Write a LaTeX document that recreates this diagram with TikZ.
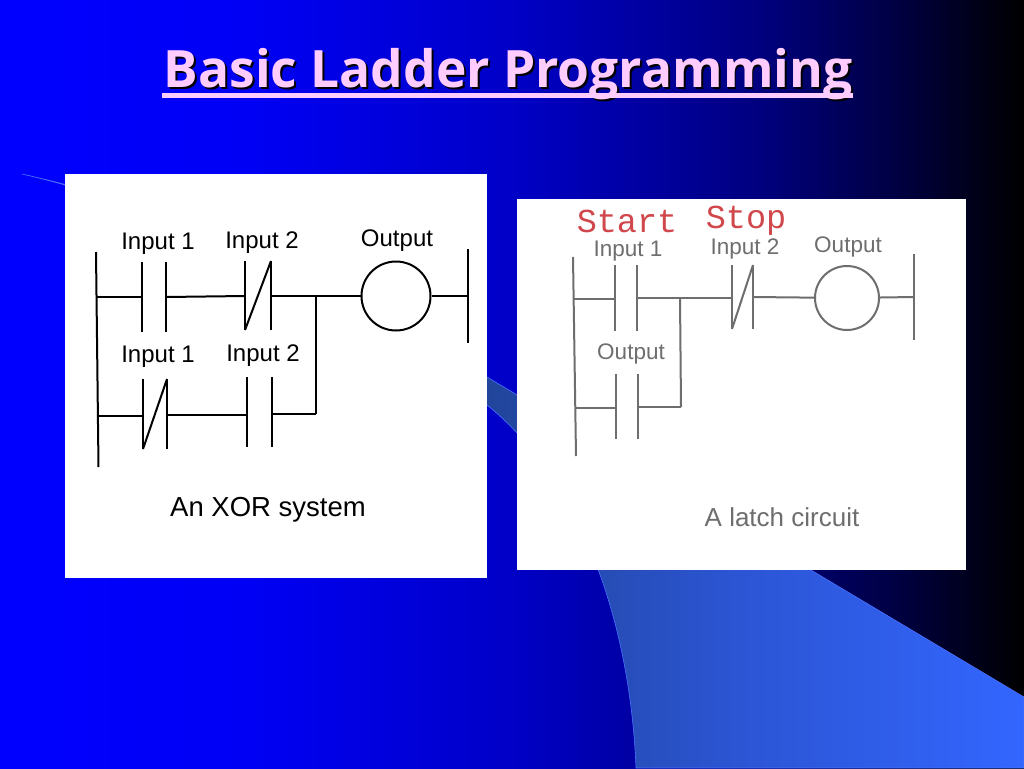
\documentclass[tikz,border=0pt]{standalone}
\usepackage{tikz}
\usepackage{fontspec}
\setmainfont{Liberation Sans}
\newfontfamily\titlefont{Open Sans}
\newfontfamily\typefont{Liberation Mono}
\definecolor{titlepink}{HTML}{FFCCFF}
\definecolor{wiregray}{HTML}{6E6E6E}
\definecolor{startred}{HTML}{D0474C}
\definecolor{swooshedge}{HTML}{4A70FF}
\pgfdeclarehorizontalshading{slideback}{100bp}{rgb(0bp)=(0,0,1); rgb(25bp)=(0,0,1); rgb(37bp)=(0,0,0.96); rgb(50bp)=(0,0,0.78); rgb(62bp)=(0,0,0.5); rgb(69bp)=(0,0,0.25); rgb(75bp)=(0,0,0); rgb(100bp)=(0,0,0)}
\pgfdeclarehorizontalshading{swoosh}{100bp}{rgb(0bp)=(0.13,0.27,0.6); rgb(48bp)=(0.13,0.27,0.6); rgb(60bp)=(0.17,0.33,0.82); rgb(75bp)=(0.2,0.4,1); rgb(100bp)=(0.2,0.4,1)}
\begin{document}
\begin{tikzpicture}[x=1pt,y=-1pt,
  wire/.style={line width=2pt,black},
  graywire/.style={line width=2pt,wiregray},
  coil/.style={circle,draw,line width=2pt,inner sep=0pt,minimum size=#1},
  inlabel/.style={font=\fontsize{24}{24}\selectfont,inner sep=0pt,text=black},
  graylabel/.style={font=\fontsize{22.5}{24}\selectfont,inner sep=0pt,text=wiregray},
  redlabel/.style={font=\typefont\fontsize{33.5}{34}\selectfont,inner sep=0pt,text=startred},
  slidetitle/.style={font=\titlefont\bfseries\fontsize{51.5}{52}\selectfont,inner sep=0pt}]
\useasboundingbox (0,0) rectangle (1024,768);
\shade[shading=slideback] (0,0) rectangle (1024,768);
\shade[shading=swoosh,draw=swooshedge,line width=0.6pt] (22,174) .. controls (250,225) and (400,325) .. (487,377) -- (1024,697) -- (1024,768) -- (636,768) .. controls (630,620) and (580,480) .. (487,405) .. controls (400,320) and (200,215) .. (22,174);
\node[slidetitle,text=black] (titleshadow) at (510,76) {Basic Ladder Programming};
\node[slidetitle,text=titlepink] (title) at (508,74) {Basic Ladder Programming};
\coordinate (ula) at (162,95.5);
\coordinate (ulb) at (853,95.5);
\draw[line width=4.5pt,titlepink] (ula) -- (ulb);
\fill[white] (65,174) rectangle (487,578);
\fill[white] (517,199) rectangle (966,570);
\node[inlabel] (xa) at (158,244) {Input 1};
\node[inlabel] (xb) at (262,243) {Input 2};
\node[inlabel] (xc) at (397,241) {Output};
\node[inlabel] (xd) at (158,357) {Input 1};
\node[inlabel] (xe) at (263,356) {Input 2};
\node[inlabel,font=\fontsize{27.5}{28}\selectfont] (xf) at (268,510) {An XOR system};
\coordinate (ltop) at (96,252);
\coordinate (lbot) at (98.5,467);
\coordinate (rtop) at (468,249);
\coordinate (rbot) at (468,343);
\coordinate (r1) at (97,297);
\coordinate (r2) at (98,416);
\coordinate (ra) at (468,296);
\coordinate (j1) at (316,296);
\coordinate (j2) at (316,414);
\coordinate (a1) at (142,262);
\coordinate (a2) at (142,332);
\coordinate (am) at (142,297);
\coordinate (b1) at (166,262);
\coordinate (b2) at (166,332);
\coordinate (bm) at (166,297);
\coordinate (c1) at (245,261);
\coordinate (c2) at (245,330);
\coordinate (cm) at (245,296);
\coordinate (d1) at (271,261);
\coordinate (d2) at (271,330);
\coordinate (dm) at (271,296);
\coordinate (e1) at (143,379);
\coordinate (e2) at (143,449);
\coordinate (em) at (143,416);
\coordinate (f1) at (167,379);
\coordinate (f2) at (167,449);
\coordinate (fm) at (167,415);
\coordinate (g1) at (247,377);
\coordinate (g2) at (247,447);
\coordinate (gm) at (247,415);
\coordinate (h1) at (272,377);
\coordinate (h2) at (272,447);
\coordinate (hm) at (272,414);
\node[coil=69pt] (coila) at (396,296) {};
\draw[wire] (ltop) -- (lbot);
\draw[wire] (rtop) -- (rbot);
\draw[wire] (a1) -- (a2);
\draw[wire] (b1) -- (b2);
\draw[wire] (c1) -- (c2);
\draw[wire] (d1) -- (d2);
\draw[wire] (c2) -- (d1);
\draw[wire] (e1) -- (e2);
\draw[wire] (f1) -- (f2);
\draw[wire] (e2) -- (f1);
\draw[wire] (g1) -- (g2);
\draw[wire] (h1) -- (h2);
\draw[wire] (r1) -- (am);
\draw[wire] (bm) -- (cm);
\draw[wire] (dm) -- (j1);
\draw[wire] (j1) -- (coila);
\draw[wire] (coila) -- (ra);
\draw[wire] (j1) -- (j2);
\draw[wire] (r2) -- (em);
\draw[wire] (fm) -- (gm);
\draw[wire] (hm) -- (j2);
\node[redlabel] (ya) at (627,221) {Start};
\node[redlabel] (yb) at (746,221) {Stop};
\node[graylabel] (yc) at (628,251) {Input 1};
\node[graylabel] (yd) at (745,249) {Input 2};
\node[graylabel] (ye) at (848,247) {Output};
\node[graylabel] (yf) at (631,354) {Output};
\node[graylabel,font=\fontsize{26}{28}\selectfont] (yg) at (782,517) {A latch circuit};
\coordinate (mtop) at (573,257);
\coordinate (mbot) at (576,456);
\coordinate (ntop) at (914,254);
\coordinate (nbot) at (914,340);
\coordinate (s1) at (574,299);
\coordinate (s2) at (575,408);
\coordinate (sa) at (914,297);
\coordinate (k1) at (680,298);
\coordinate (k2) at (681,407);
\coordinate (p1) at (615,265);
\coordinate (p2) at (615,331);
\coordinate (pm) at (615,299);
\coordinate (q1) at (637,265);
\coordinate (q2) at (637,331);
\coordinate (qm) at (637,298);
\coordinate (t1) at (732,265);
\coordinate (t2) at (732,329);
\coordinate (tm) at (732,298);
\coordinate (u1) at (753,265);
\coordinate (u2) at (753,329);
\coordinate (um) at (753,297);
\coordinate (v1) at (616,374);
\coordinate (v2) at (616,439);
\coordinate (vm) at (616,408);
\coordinate (w1) at (638,374);
\coordinate (w2) at (638,439);
\coordinate (wm) at (638,407);
\node[coil=64pt,draw=wiregray] (coilb) at (847,298) {};
\draw[graywire] (mtop) -- (mbot);
\draw[graywire] (ntop) -- (nbot);
\draw[graywire] (p1) -- (p2);
\draw[graywire] (q1) -- (q2);
\draw[graywire] (t1) -- (t2);
\draw[graywire] (u1) -- (u2);
\draw[graywire] (t2) -- (u1);
\draw[graywire] (v1) -- (v2);
\draw[graywire] (w1) -- (w2);
\draw[graywire] (s1) -- (pm);
\draw[graywire] (qm) -- (k1);
\draw[graywire] (k1) -- (tm);
\draw[graywire] (um) -- (coilb);
\draw[graywire] (coilb) -- (sa);
\draw[graywire] (k1) -- (k2);
\draw[graywire] (s2) -- (vm);
\draw[graywire] (wm) -- (k2);
\end{tikzpicture}
\end{document}
